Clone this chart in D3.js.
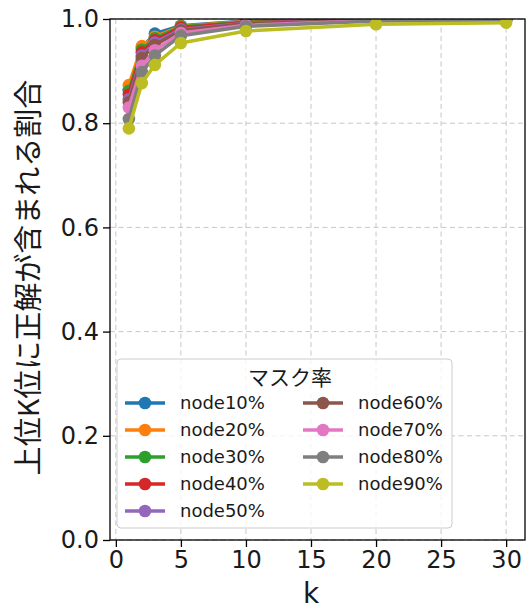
<!DOCTYPE html>
<html>
<head>
<meta charset="utf-8">
<script src="https://cdn.jsdelivr.net/npm/d3@7"></script>
<style>
  body { margin: 0; background: #fff; }
  svg { display: block; }
</style>
</head>
<body>
<div id="chart"></div>
<script>
// k values on the x axis
const kValues = [1, 2, 3, 5, 10, 20, 30];

// series names and colours (matplotlib tab10)
const seriesNames = ["node10%", "node20%", "node30%", "node40%", "node50%",
                     "node60%", "node70%", "node80%", "node90%"];
const seriesColors = ["#1f77b4", "#ff7f0e", "#2ca02c", "#d62728", "#9467bd",
                      "#8c564b", "#e377c2", "#7f7f7f", "#bcbd22"];

// ratio, one row per series
const node10 = [0.865, 0.945, 0.972, 0.987, 0.996, 0.999, 1.000];
const node20 = [0.873, 0.948, 0.966, 0.986, 0.995, 0.999, 1.000];
const node30 = [0.862, 0.941, 0.963, 0.985, 0.994, 0.999, 1.000];
const node40 = [0.855, 0.936, 0.959, 0.983, 0.993, 0.998, 0.999];
const node50 = [0.846, 0.930, 0.955, 0.980, 0.992, 0.998, 0.999];
const node60 = [0.840, 0.925, 0.950, 0.978, 0.991, 0.998, 0.999];
const node70 = [0.830, 0.910, 0.940, 0.973, 0.988, 0.997, 0.999];
const node80 = [0.808, 0.898, 0.930, 0.968, 0.986, 0.996, 0.998];
const node90 = [0.790, 0.877, 0.912, 0.954, 0.977, 0.990, 0.993];
const seriesValues = [node10, node20, node30, node40, node50, node60, node70, node80, node90];

const xTicks = [0, 5, 10, 15, 20, 25, 30];
const yTicks = [0, 0.2, 0.4, 0.6, 0.8, 1.0];

const width = 526, height = 609;
const margin = { top: 19, right: 1, bottom: 69, left: 110 };

const svg = d3.select("#chart")
    .append("svg")
    .attr("width", width)
    .attr("height", height);

const xScale = d3.scaleLinear()
    .domain([-0.45, 31.45])
    .range([margin.left, width - margin.right]);

const yScale = d3.scaleLinear()
    .domain([0, 1])
    .range([height - margin.bottom, margin.top]);

// clip for the plotting area
svg.append("defs").append("clipPath").attr("id", "plot")
    .append("rect")
    .attr("x", margin.left).attr("y", margin.top)
    .attr("width", width - margin.left - margin.right)
    .attr("height", height - margin.top - margin.bottom);

// grid
const grid = svg.append("g").attr("stroke", "#b0b0b0").attr("stroke-width", 1)
    .attr("stroke-dasharray", "5,3.5").attr("opacity", 0.7);
grid.selectAll(".gx").data(xTicks).enter().append("line")
    .attr("x1", d => xScale(d)).attr("x2", d => xScale(d))
    .attr("y1", margin.top).attr("y2", height - margin.bottom);
grid.selectAll(".gy").data(yTicks).enter().append("line")
    .attr("x1", margin.left).attr("x2", width - margin.right)
    .attr("y1", d => yScale(d)).attr("y2", d => yScale(d));

// lines and markers
const line = d3.line()
    .x((d, i) => xScale(kValues[i]))
    .y(d => yScale(d));

const plot = svg.append("g").attr("clip-path", "url(#plot)");
seriesValues.forEach((vals, s) => {
    const g = plot.append("g");
    g.append("path")
        .datum(vals)
        .attr("fill", "none")
        .attr("stroke", seriesColors[s])
        .attr("stroke-width", 3.5)
        .attr("stroke-linejoin", "round")
        .attr("d", line);
    g.selectAll("circle")
        .data(vals)
        .enter().append("circle")
        .attr("cx", (d, i) => xScale(kValues[i]))
        .attr("cy", d => yScale(d))
        .attr("r", 6.3)
        .attr("fill", seriesColors[s]);
});

// axes
const xAxis = svg.append("g")
    .attr("transform", `translate(0,${height - margin.bottom})`)
    .call(d3.axisBottom(xScale).tickValues(xTicks).tickSize(7).tickPadding(4).tickFormat(d3.format("d")));
const yAxis = svg.append("g")
    .attr("transform", `translate(${margin.left},0)`)
    .call(d3.axisLeft(yScale).tickValues(yTicks).tickSize(7).tickPadding(4).tickFormat(d3.format(".1f")));

[xAxis, yAxis].forEach(ax => {
    ax.select(".domain").remove();
    ax.selectAll(".tick line").attr("stroke", "#000").attr("stroke-width", 1.3);
    ax.selectAll(".tick text")
        .attr("fill", "#1a1a1a")
        .style("font-family", "DejaVu Sans")
        .style("font-size", "24px");
});

// spines
svg.append("rect")
    .attr("x", margin.left).attr("y", margin.top)
    .attr("width", width - margin.left - margin.right)
    .attr("height", height - margin.top - margin.bottom)
    .attr("fill", "none").attr("stroke", "#000").attr("stroke-width", 1.3);

// axis labels
svg.append("text")
    .attr("x", xScale(15)).attr("y", 603)
    .attr("text-anchor", "middle")
    .style("font-family", "DejaVu Sans").style("font-size", "28px")
    .attr("fill", "#1a1a1a")
    .text("k");

svg.append("text")
    .attr("transform", `translate(39,${yScale(0.5) - 2}) rotate(-90)`)
    .attr("text-anchor", "middle")
    .style("font-family", "Noto Sans CJK JP").style("font-size", "29px")
    .attr("fill", "#1a1a1a")
    .text("上位K位に正解が含まれる割合");

// legend
const legend = svg.append("g");
legend.append("rect")
    .attr("x", 117).attr("y", 359).attr("width", 335).attr("height", 169)
    .attr("rx", 4)
    .attr("fill", "#fff").attr("fill-opacity", 0.8)
    .attr("stroke", "#cccccc").attr("stroke-width", 1);

legend.append("text")
    .attr("x", 290).attr("y", 385)
    .attr("text-anchor", "middle")
    .style("font-family", "Noto Sans CJK JP").style("font-size", "21px")
    .attr("fill", "#1a1a1a")
    .text("マスク率");

seriesNames.forEach((name, i) => {
    const col = i < 5 ? 0 : 1;
    const row = i < 5 ? i : i - 5;
    const x0 = col === 0 ? 125 : 303;
    const y0 = 403 + row * 27;
    const item = legend.append("g");
    item.append("line")
        .attr("x1", x0).attr("x2", x0 + 40)
        .attr("y1", y0).attr("y2", y0)
        .attr("stroke", seriesColors[i]).attr("stroke-width", 3.5);
    item.append("circle")
        .attr("cx", x0 + 20).attr("cy", y0).attr("r", 6.3)
        .attr("fill", seriesColors[i]);
    item.append("text")
        .attr("x", x0 + 55).attr("y", y0)
        .attr("dy", "0.35em")
        .style("font-family", "DejaVu Sans").style("font-size", "18px")
        .attr("fill", "#1a1a1a")
        .text(name);
});
</script>
</body>
</html>
